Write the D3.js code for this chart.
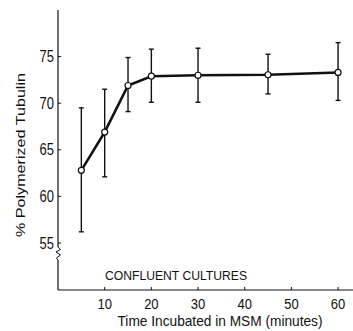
<!DOCTYPE html>
<html>
<head>
<meta charset="utf-8">
<script src="https://cdn.jsdelivr.net/npm/d3@7"></script>
<style>
body { margin: 0; background: #fff; }
svg { display: block; font-family: "Liberation Sans", Arial, sans-serif; }
</style>
</head>
<body>
<div class="chart"></div>
<script>
// data
var times   = [5, 10, 15, 20, 30, 45, 60];
var means   = [62.8, 66.9, 71.9, 72.9, 73.0, 73.05, 73.3];
var errHigh = [69.5, 71.5, 74.9, 75.8, 75.9, 75.25, 76.5];
var errLow  = [56.2, 62.1, 69.1, 70.1, 70.1, 71.0, 70.3];
var xTicks  = [10, 20, 30, 40, 50, 60];
var yTicks  = [55, 60, 65, 70, 75];

var width = 353, height = 331;
var axisX = 58, axisBottom = 290;
var stretch = 1.22;   // the scanned figure's type is taller than wide
var stretchX = 1.1;   // a bit less along the bottom, where rows are tight

var svg = d3.select(".chart")
    .append("svg")
    .attr("width", width)
    .attr("height", height);

var x = d3.scaleLinear().domain([0, 63.2]).range([axisX, 353]);
var y = d3.scaleLinear().domain([55, 80]).range([243, 10]);

var ink = "#111";

// y axis upper part (above the break)
svg.append("line")
    .attr("x1", axisX).attr("x2", axisX)
    .attr("y1", y(80)).attr("y2", 247)
    .attr("stroke", ink).attr("stroke-width", 1.2);

// zigzag break
svg.append("path")
    .attr("d", d3.line()([[axisX, 247], [axisX + 2.5, 249.5], [axisX - 2, 252], [axisX + 2.5, 255], [axisX - 1.5, 258], [axisX, 260]]))
    .attr("fill", "none").attr("stroke", ink).attr("stroke-width", 1);

// y axis lower part
svg.append("line")
    .attr("x1", axisX).attr("x2", axisX)
    .attr("y1", 260).attr("y2", axisBottom)
    .attr("stroke", ink).attr("stroke-width", 1.2);

// x axis
svg.append("line")
    .attr("x1", axisX).attr("x2", width)
    .attr("y1", axisBottom).attr("y2", axisBottom)
    .attr("stroke", ink).attr("stroke-width", 1.2);

// y ticks
svg.selectAll(".ytick")
    .data(yTicks)
    .enter()
    .append("line")
    .attr("x1", axisX).attr("x2", axisX + 3)
    .attr("y1", d => y(d)).attr("y2", d => y(d))
    .attr("stroke", ink).attr("stroke-width", 1);

svg.selectAll(".ylab")
    .data(yTicks)
    .enter()
    .append("text")
    .attr("transform", d => `translate(${axisX - 4},${y(d)}) scale(1,${stretch})`)
    .attr("dy", "0.35em")
    .attr("text-anchor", "end")
    .attr("font-size", 13)
    .attr("fill", ink)
    .text(d => d);

// x ticks
svg.selectAll(".xtick")
    .data(xTicks)
    .enter()
    .append("line")
    .attr("x1", d => x(d)).attr("x2", d => x(d))
    .attr("y1", axisBottom).attr("y2", axisBottom - 3)
    .attr("stroke", ink).attr("stroke-width", 1);

svg.selectAll(".xlab")
    .data(xTicks)
    .enter()
    .append("text")
    .attr("transform", d => `translate(${x(d)},309) scale(1,${stretchX})`)
    .attr("text-anchor", "middle")
    .attr("font-size", 13)
    .attr("fill", ink)
    .text(d => d);

// axis titles
svg.append("text")
    .attr("transform", `translate(220,325.5) scale(1,${stretchX})`)
    .attr("text-anchor", "middle")
    .attr("font-size", 13)
    .attr("textLength", 205)
    .attr("lengthAdjust", "spacingAndGlyphs")
    .attr("fill", ink)
    .text("Time Incubated in MSM (minutes)");

svg.append("text")
    .attr("transform", "translate(25,155) rotate(-90)")
    .attr("text-anchor", "middle")
    .attr("font-size", 13.5)
    .attr("textLength", 164)
    .attr("lengthAdjust", "spacingAndGlyphs")
    .attr("fill", ink)
    .text("% Polymerized Tubulin");

svg.append("text")
    .attr("transform", `translate(105,280) scale(1,${stretch})`)
    .attr("font-size", 10)
    .attr("textLength", 142)
    .attr("lengthAdjust", "spacingAndGlyphs")
    .attr("fill", ink)
    .text("CONFLUENT CULTURES");

// error bars
var pts = times.map((t, i) => ({t: t, m: means[i], hi: errHigh[i], lo: errLow[i]}));

var bars = svg.append("g").attr("stroke", ink);
bars.selectAll(".eb")
    .data(pts)
    .enter()
    .append("line")
    .attr("x1", d => x(d.t)).attr("x2", d => x(d.t))
    .attr("y1", d => y(d.hi)).attr("y2", d => y(d.lo))
    .attr("stroke-width", 1.4);

bars.selectAll(".capHi")
    .data(pts)
    .enter()
    .append("line")
    .attr("x1", d => x(d.t) - 2.5).attr("x2", d => x(d.t) + 2.5)
    .attr("y1", d => y(d.hi)).attr("y2", d => y(d.hi))
    .attr("stroke-width", 1.4);

bars.selectAll(".capLo")
    .data(pts)
    .enter()
    .append("line")
    .attr("x1", d => x(d.t) - 2.5).attr("x2", d => x(d.t) + 2.5)
    .attr("y1", d => y(d.lo)).attr("y2", d => y(d.lo))
    .attr("stroke-width", 1.4);

// mean line
svg.append("path")
    .datum(pts)
    .attr("d", d3.line().x(d => x(d.t)).y(d => y(d.m)))
    .attr("fill", "none")
    .attr("stroke", ink)
    .attr("stroke-width", 2.6);

// open circles
svg.selectAll(".pt")
    .data(pts)
    .enter()
    .append("circle")
    .attr("cx", d => x(d.t))
    .attr("cy", d => y(d.m))
    .attr("r", 3)
    .attr("fill", "#fff")
    .attr("stroke", ink)
    .attr("stroke-width", 1.2);
</script>
</body>
</html>
